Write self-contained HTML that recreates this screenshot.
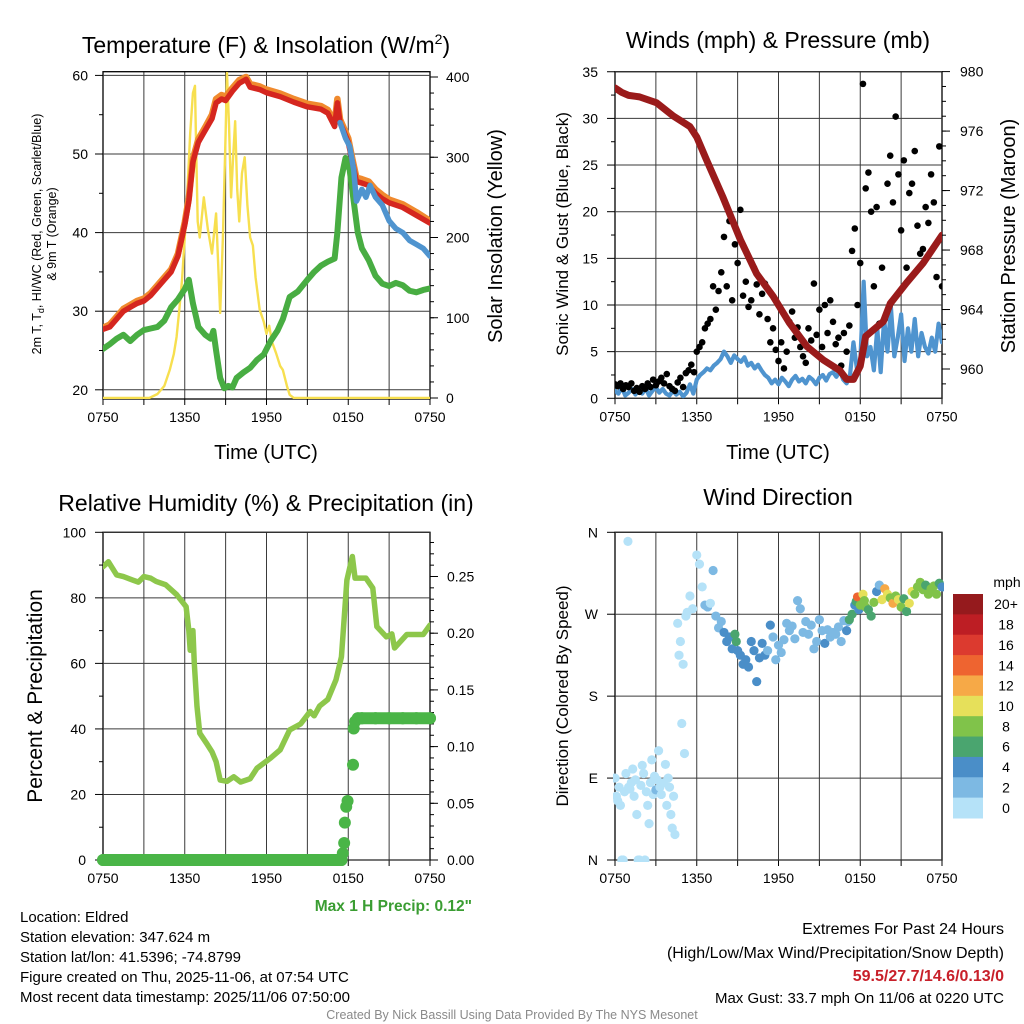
<!DOCTYPE html>
<html><head><meta charset="utf-8">
<style>
html,body{margin:0;padding:0;background:#fff;}
svg{display:block;font-family:"Liberation Sans",Arial,sans-serif;}
</style></head>
<body>
<svg id="chart" width="1024" height="1024" viewBox="0 0 1024 1024" xmlns="http://www.w3.org/2000/svg">
<defs>
<clipPath id="c1"><rect x="103" y="71.7" width="327" height="327.3"/></clipPath>
<clipPath id="c2"><rect x="615" y="71.7" width="327" height="326.6"/></clipPath>
<clipPath id="c3"><rect x="103" y="532.3" width="327" height="327.7"/></clipPath>
<clipPath id="c4"><rect x="613" y="532.3" width="331" height="329.7"/></clipPath>
</defs>
<text x="266" y="53" font-size="23" text-anchor="middle">Temperature (F) &amp; Insolation (W/m<tspan font-size="14" dy="-9">2</tspan><tspan dy="9">)</tspan></text>
<text x="778" y="48" font-size="23" text-anchor="middle">Winds (mph) &amp; Pressure (mb)</text>
<text x="266" y="511" font-size="23" text-anchor="middle">Relative Humidity (%) &amp; Precipitation (in)</text>
<text x="778" y="505" font-size="23" text-anchor="middle">Wind Direction</text>

<text transform="translate(41,234) rotate(-90)" font-size="12.5" text-anchor="middle">2m T, T<tspan font-size="9" dy="3">d</tspan><tspan dy="-3">, HI/WC (Red, Green, Scarlet/Blue)</tspan></text>
<text transform="translate(56,234) rotate(-90)" font-size="12.5" text-anchor="middle">&amp; 9m T (Orange)</text>
<text transform="translate(502,236) rotate(-90)" font-size="20" text-anchor="middle">Solar Insolation (Yellow)</text>
<text transform="translate(568,234) rotate(-90)" font-size="17" text-anchor="middle">Sonic Wind &amp; Gust (Blue, Black)</text>
<text transform="translate(1015,236) rotate(-90)" font-size="20" text-anchor="middle">Station Pressure (Maroon)</text>
<text transform="translate(42,696) rotate(-90)" font-size="21" text-anchor="middle">Percent &amp; Precipitation</text>
<text transform="translate(568,696) rotate(-90)" font-size="17" text-anchor="middle">Direction (Colored By Speed)</text>

<text x="266" y="459" font-size="20" text-anchor="middle">Time (UTC)</text>
<text x="778" y="459" font-size="20" text-anchor="middle">Time (UTC)</text>

<text x="472" y="911" font-size="15.5" font-weight="bold" fill="#3a9d32" text-anchor="end">Max 1 H Precip: 0.12"</text>
<g font-size="15">
<text x="20" y="922">Location: Eldred</text>
<text x="20" y="942">Station elevation: 347.624 m</text>
<text x="20" y="962">Station lat/lon: 41.5396; -74.8799</text>
<text x="20" y="982">Figure created on Thu, 2025-11-06, at 07:54 UTC</text>
<text x="20" y="1002">Most recent data timestamp: 2025/11/06 07:50:00</text>
</g>
<g font-size="16" text-anchor="end">
<text x="1004" y="934">Extremes For Past 24 Hours</text>
<text x="1004" y="958">(High/Low/Max Wind/Precipitation/Snow Depth)</text>
<text x="1004" y="981" font-weight="bold" fill="#c8202a">59.5/27.7/14.6/0.13/0</text>
<text x="1004" y="1003" font-size="15">Max Gust: 33.7 mph On 11/06 at 0220 UTC</text>
</g>
<text x="512" y="1019" font-size="12.5" fill="#8a8a8a" text-anchor="middle">Created By Nick Bassill Using Data Provided By The NYS Mesonet</text>
</svg>
<script>
// ---------- DATA ----------
const timeLabels = ['0750','1350','1950','0150','0750'];
const timeLabelHours = [0,6,12,18,24];

const tempTimes = [0,0.5,1,1.5,2,2.5,3,3.5,4,4.5,5,5.5,6,6.3,6.6,7,7.5,8,8.3,8.7,9,9.5,10,10.5,10.8,11.5,12,13,14,15,16,16.5,17,17.2,17.4,18,18.3,18.6,19,19.5,20,20.5,21,22,23,24];
const tempValues = [27.7,28,29,30,30.5,31,31.3,32,33,34,35,37,41,44,49,51.5,53,54.5,56.5,57,56.8,58,59,59.5,58.5,58.2,57.8,57.3,56.6,56,55.7,55.2,53.5,56.5,54,51.5,49,46.5,46.3,46,45,44.3,43.8,43.2,42.2,41.2];
const temp9mValues = [27.9,28.3,29.3,30.3,30.8,31.3,31.6,32.3,33.3,34.3,35.3,37.3,41.3,44.4,49.4,51.9,53.4,55,57,57.5,57.3,58.4,59.4,59.8,58.9,58.6,58.2,57.7,57,56.4,56.1,55.6,54,57,54.4,52,49.4,47,46.8,46.5,45.5,44.8,44.2,43.6,42.6,41.5];
const chillTimes = [17.4,17.8,18.1,18.4,18.6,19,19.3,19.6,20,20.5,21,21.5,22,22.5,23,23.5,24];
const chillValues = [54,52,51,48,44,45.5,44.5,46,44.5,43.5,41.5,40.5,40,39,38.5,38,37];
const dewTimes = [0,0.5,1,1.5,2,2.5,3,3.5,4,4.5,5,5.5,6,6.3,6.6,7,7.5,7.9,8.1,8.3,8.6,8.9,9.2,9.5,9.8,10.3,10.8,11.3,11.8,12.3,12.8,13.2,13.7,14.3,15,15.5,16,16.5,17,17.2,17.5,17.8,18.1,18.4,18.7,19,19.5,20,20.5,21,21.5,22,22.5,23,23.5,24];
const dewValues = [25.2,25.8,26.5,27,26.2,27,27.6,27.8,28,28.8,30.5,31.5,32.8,34,31,28,27,26.5,27.5,25,21.5,20.2,20.5,20.3,21.5,22.2,22.8,23.8,24.5,26.2,27.5,29,31.8,32.5,34,35,35.8,36.3,36.7,40,47,49.5,48,44,40,38,36.5,34.5,33.5,33.2,33.6,33.3,32.6,32.4,32.7,32.9];
const solarTimes = [0,3.4,4,4.5,4.9,5.2,5.4,5.6,5.8,6,6.2,6.4,6.6,6.75,6.85,6.95,7.1,7.4,7.7,8,8.3,8.6,8.8,9,9.1,9.25,9.4,9.55,9.7,9.85,10,10.2,10.4,10.6,10.8,11,11.2,11.5,11.8,12,12.2,12.4,12.7,13,13.2,13.5,13.7,14,24];
const solarValues = [0,0,5,15,35,55,76,110,147,200,260,330,380,389,300,220,200,250,210,180,230,106,200,330,405,340,250,300,345,260,220,280,300,240,200,190,150,110,95,80,90,70,56,40,35,15,4,0,0];

const pressTimes = [0,0.5,1,1.8,3.06,4.3,5.5,6,6.7,7.9,9.2,10.4,11.6,12.8,14.1,15.3,16.5,17,17.5,18,18.4,19.7,20.2,21.4,22.6,24];
const pressValues = [978.9,978.6,978.4,978.3,977.9,977,976.3,975.6,974.1,971.6,968.7,966.4,964.9,963.1,961.5,960.6,959.9,959.3,959.3,960.2,962.2,963.2,964.4,965.8,967.1,969];
const windValues = [0.8,0.5,1.2,0.3,0.6,1.0,0.4,0.9, 0.5,1.1,0.3,0.8,1.2,0.6,1.0,0.5, 0.3,0.8,0.4,0.7,0.2,0.6,1.5,0.5, 2.0,2.5,2.8,3.2,3.0,3.5,3.8,4.2, 5.0,4.5,3.8,4.6,4.2,3.9,4.4,3.5, 3.8,3.2,3.6,3.0,2.5,2.2,1.6,2.0, 1.5,2.2,1.8,1.3,2.0,2.4,1.8,2.1, 1.6,2.3,2.0,1.5,2.2,2.5,1.9,2.6, 2.8,2.3,3.0,2.0,1.6,2.5,6.0,3.2, 3.8,12.5,4.5,5.5,3.0,7.5,2.8,8.5, 5.0,9.8,4.5,6.5,9.0,4.0,7.5,5.0, 8.5,4.5,7.0,5.5,4.8,6.5,5.0,8.0, 6.0];
const windStepHours = 0.25;
const gustTimes = [0,0.2,0.4,0.6,0.8,1,1.2,1.4,1.6,1.8,2,2.2,2.4,2.6,2.8,3,3.2,3.4,3.6,3.8,4,4.2,4.4,4.6,4.8,5,5.2,5.4,5.6,5.8,6,6.2,6.4,6.6,6.8,7,7.2,7.4,7.6,7.8,8,8.2,8.4,8.6,8.8,9,9.2,9.4,9.6,9.8,10,10.2,10.4,10.6,10.8,11,11.2,11.4,11.6,11.8,12,12.2,12.4,12.6,12.8,13,13.2,13.4,13.6,13.8,14,14.2,14.4,14.6,14.8,15,15.2,15.4,15.6,15.8,16,16.2,16.4,16.6,16.8,17,17.2,17.4,17.6,17.8,18,18.2,18.4,18.6,18.8,19,19.2,19.4,19.6,19.8,20,20.2,20.4,20.6,20.8,21,21.2,21.4,21.6,21.8,22,22.2,22.4,22.6,22.8,23,23.2,23.4,23.6,23.8,24];
const gustValues = [1.5,1.3,1.6,1.0,1.4,1.2,1.6,0.8,1.1,0.7,1.3,1.0,1.6,1.2,2.0,1.4,1.8,2.2,1.6,2.6,1.3,1.0,0.8,1.7,2.2,1.2,2.7,3.0,3.6,2.8,5.0,5.5,6.0,7.5,8.0,8.5,12.0,9.5,11.5,13.5,17.3,12.0,19.0,10.5,16.5,14.5,20.2,11.0,12.5,9.8,10.5,14.0,12.2,9.0,11.2,12.3,8.5,6.0,7.5,5.2,4.0,6.0,3.2,5.0,8.2,9.3,6.5,7.6,5.5,4.5,3.8,7.5,6.2,12.3,6.8,9.5,5.5,10.0,7.0,10.5,8.2,5.8,6.5,3.5,7.0,5.0,7.8,15.8,18.2,10.0,14.5,33.7,22.5,24.2,20.0,12.0,20.5,8.0,14.0,8.5,23.0,26.0,21.0,30.2,24.0,18.0,25.5,14.0,22.0,23.0,26.5,18.5,15.5,16.0,20.5,18.8,24.0,21.0,13.0,27.0,12.0];

const rhTimes = [0,0.4,1,1.5,2.2,2.6,3,3.5,3.9,4.6,5.4,6.1,6.3,6.4,6.6,6.7,6.9,7.1,7.6,8,8.3,8.6,9.1,9.6,10.1,10.8,11.3,12.3,13,13.7,14.5,15.2,15.5,15.9,16.5,17.1,17.5,17.9,18.3,18.5,19.3,19.8,20.1,20.8,21.2,21.4,22.3,23.5,24];
const rhValues = [89.5,91,87,86.5,85.4,84.8,86.5,86,85,84,81,77.3,70,64,70,60,46.8,38.7,35.6,33,30,24.4,24,25.4,23.8,24.8,28,31.1,33.6,39.7,41.5,45.3,44,47,49,55,62,85.4,92.6,86,86,83,71.2,68.1,69,64.7,68.8,68.8,71.7];
const precipTimes = [0,2,4,6,8,10,12,14,16,17,17.5,17.6,17.7,17.75,17.85,17.95,18.35,18.4,18.5,18.7,19,20,21,22,23,24];
const precipValues = [0,0,0,0,0,0,0,0,0,0,0,0.006,0.015,0.033,0.047,0.052,0.084,0.116,0.122,0.125,0.125,0.125,0.125,0.125,0.125,0.125];

const dirTimes = [0,0.1,0.2,0.3,0.4,0.5,0.6,0.7,0.8,0.95,1,1.1,1.2,1.3,1.4,1.5,1.6,1.7,1.8,1.9,2,2.1,2.2,2.3,2.4,2.5,2.6,2.7,2.8,2.9,3,3.1,3.2,3.3,3.4,3.6,3.7,3.8,3.9,4,4.1,4.2,4.3,4.4,4.6,4.7,4.8,4.9,5,5.1,5.2,5.3,5.5,5.7,6,6.2,6.4,6.6,6.8,7,7.2,7.4,7.6,7.8,8,8.2,8.4,8.6,8.8,8.9,9,9.2,9.4,9.6,9.8,10,10.2,10.4,10.6,10.8,11,11.2,11.4,11.6,11.8,12,12.2,12.4,12.6,12.8,13,13.2,13.4,13.6,13.8,14,14.2,14.4,14.6,14.8,15,15.2,15.4,15.6,15.8,16,16.2,16.4,16.6,16.8,17,17.1,17.2,17.4,17.6,17.7,17.8,17.9,18,18.2,18.3,18.4,18.6,18.8,19,19.2,19.4,19.6,19.8,20,20.2,20.4,20.6,20.8,21,21.2,21.4,21.6,21.8,22,22.2,22.4,22.6,22.8,23,23.2,23.4,23.6,23.8,24];
const dirValues = [90,70,65,80,60,0,0,75,95,350,80,78,85,100,70,88,50,0,0,82,104,95,0,75,60,40,85,110,72,92,77,88,120,80,72,85,105,60,90,80,50,35,70,28,260,225,240,150,215,117,268,272,290,276,335,325,300,280,278,282,318,268,255,262,250,240,245,232,248,240,230,225,215,220,212,240,230,196,222,238,225,230,258,245,220,236,228,242,260,252,257,243,285,276,250,262,248,258,232,240,264,252,238,253,245,250,248,256,240,263,252,262,264,270,280,284,289,275,280,292,285,278,275,268,283,295,302,286,298,292,288,282,290,286,278,287,273,282,295,292,300,305,297,302,292,298,301,292,304,300];
const dirSpeeds = [1,1,0.5,1,1,0.5,0.5,1,0.8,1,1,1,0.6,1,1,0.6,1,0.5,0.5,1,1,1,0.5,1,0.8,1,1,0.8,1.2,0.8,3.5,1,1,1,1,1,1,1,1,1,1,1,1,1,1,1,1,1,1,1,1,1,1,1,1,0.8,1.5,2,2,1.5,3,2.5,2.5,3,4.5,4.5,5,4.5,6.5,7,4.5,4.5,5,4.5,4.5,5,4.5,4.5,4.5,4,5,3.5,4,2.5,3,2.5,3.5,3,2.5,3,2.5,3,2,2.5,2.5,3,3,2.5,2.5,2,2.5,3,4.5,3,2.5,3,2.5,3,2.5,2.5,4.5,3,7.5,6.5,4.5,7,15,4,8.5,10,8,9,7.5,6.5,9,4,3.5,10.5,12.5,11,9,12,8,10,8.5,7,6.5,10,10.5,8.5,9,8.5,9,7,8.5,8.5,9,8.5,6.5,5];
const speedBinLabels = ['0','2','4','6','8','10','12','14','16','18','20+'];

// ---------- DRAWING ----------
const NS = 'http://www.w3.org/2000/svg';
const svg = document.getElementById('chart');
const binColors = ['#b5e2f8','#7db9e3','#4a8ec8','#4aa56f','#80c34a','#e6e05a','#f6a947','#ee6430','#dc3a2f','#bd1e24','#951a1d'];
function mk(tag, attrs, parent){
  const e = document.createElementNS(NS, tag);
  for (const k in attrs) e.setAttribute(k, attrs[k]);
  (parent || svg).appendChild(e);
  return e;
}
function grp(name, parent){
  const g = mk('g', {}, parent);
  
  
  return g;
}
function xScale(x0){ return t => x0 + t * 327 / 24; }

function frame(name, x0, y0, x1, y1, xs){
  const g = grp(name + '-axes');
  for (let h = 0; h <= 24; h += 3){
    const x = xs(h);
    const ln = mk('line', {x1:x, y1:y0, x2:x, y2:y1, stroke:'#3a3a3a', 'stroke-width':1}, g);
    
    
    const tk = mk('line', {x1:x, y1:y1, x2:x, y2:y1 + 6, stroke:'#000', 'stroke-width':1}, g);
    
    
  }
  for (let i = 0; i < timeLabels.length; i++){
    const tx = mk('text', {x:xs(timeLabelHours[i]), y:y1 + 23, 'font-size':14, 'text-anchor':'middle'}, g);
    tx.textContent = timeLabels[i];
    
    
  }
  const fr = mk('rect', {x:x0, y:y0, width:x1 - x0, height:y1 - y0, fill:'none', stroke:'#000', 'stroke-width':1.3}, g);
  
  
  return g;
}
function yAxis(g, side, x, ys, vals, fmt, minorVals, grid, x0, x1, labelX){
  const dir = side === 'left' ? -1 : 1;
  minorVals.forEach(v => {
    const y = ys(v);
    const m = mk('line', {x1:x, y1:y, x2:x + dir * 4, y2:y, stroke:'#000', 'stroke-width':1}, g);
    
    
  });
  vals.forEach(v => {
    const y = ys(v);
    if (grid){
      const gl = mk('line', {x1:x0, y1:y, x2:x1, y2:y, stroke:'#3a3a3a', 'stroke-width':1}, g);
      
      
    }
    const t = mk('line', {x1:x, y1:y, x2:x + dir * 8, y2:y, stroke:'#000', 'stroke-width':1}, g);
    
    
    const tx = mk('text', {x:labelX, y:y + 5, 'font-size':14, 'text-anchor': side === 'left' ? 'end' : 'start'}, g);
    tx.textContent = fmt(v);
    
    
  });
}
function range(a, b, s){ const r = []; for (let v = a; v <= b + 1e-9; v += s) r.push(+v.toFixed(4)); return r; }
function pathD(ts, vs, xs, ys){ return ts.map((t, i) => (i ? 'L' : 'M') + xs(t).toFixed(2) + ',' + ys(vs[i]).toFixed(2)).join(' '); }
function line(parent, name, ts, vs, xs, ys, color, w, clip){
  const p = mk('path', {d:pathD(ts, vs, xs, ys), fill:'none', stroke:color, 'stroke-width':w, 'stroke-linejoin':'round', 'stroke-linecap':'round', 'clip-path':'url(#' + clip + ')'}, parent);
  
  
  return p;
}

// Panel 1
(function(){
  const xs = xScale(103);
  const yT = v => 389.8 - (v - 20) * 7.86;
  const yS = w => 398 - w * 0.8025;
  const g = frame('temperature', 103, 71.7, 430, 399, xs);
  yAxis(g, 'left', 103, yT, [20,30,40,50,60], v => String(v), range(25, 55, 10), true, 103, 430, 88);
  yAxis(g, 'right', 430, yS, [0,100,200,300,400], v => String(v), range(20, 380, 20), false, 0, 0, 446);
  const s = grp('temperature-series');
  line(s, 'insolation-line', solarTimes, solarValues, xs, yS, '#f7df4f', 2.4, 'c1');
  line(s, 'dewpoint-line', dewTimes, dewValues, xs, yT, '#48ad42', 6, 'c1');
  line(s, 'temp-9m-line', tempTimes, temp9mValues, xs, yT, '#f08a2e', 6.5, 'c1');
  line(s, 'temp-2m-line', tempTimes, tempValues, xs, yT, '#d5261f', 5.5, 'c1');
  line(s, 'windchill-line', chillTimes, chillValues, xs, yT, '#4f94cf', 5.5, 'c1');
})();

// Panel 2
(function(){
  const xs = xScale(615);
  const yW = v => 398.3 - v * 9.33;
  const yP = p => 369 - (p - 960) * 14.87;
  const g = frame('winds', 615, 71.7, 942, 398.3, xs);
  yAxis(g, 'left', 615, yW, [0,5,10,15,20,25,30,35], v => String(v), range(2.5, 32.5, 5), true, 615, 942, 598);
  yAxis(g, 'right', 942, yP, [960,964,968,972,976,980], v => String(v), range(959, 979, 1), false, 0, 0, 960);
  const s = grp('winds-series');
  const wt = windValues.map((v, i) => i * windStepHours);
  line(s, 'sonic-wind-line', wt, windValues, xs, yW, '#4f94cf', 4.2, 'c2');
  const dots = grp('gust-dots', s);
  gustTimes.forEach((t, i) => {
    const c = mk('circle', {cx:xs(t), cy:yW(gustValues[i]), r:3.3, fill:'#000', 'clip-path':'url(#c2)'}, dots);
    
    
  });
  line(s, 'pressure-line', pressTimes, pressValues, xs, yP, '#9a1b1b', 7, 'c2');
})();

// Panel 3
(function(){
  const xs = xScale(103);
  const yR = v => 860 - v * 3.277;
  const yPr = p => 860 - p * 1134;
  const g = frame('humidity', 103, 532.3, 430, 860, xs);
  yAxis(g, 'left', 103, yR, [0,20,40,60,80,100], v => String(v), range(10, 90, 20), true, 103, 430, 86);
  yAxis(g, 'right', 430, yPr, [0,0.05,0.1,0.15,0.2,0.25], v => v.toFixed(2), range(0.01, 0.28, 0.01), false, 0, 0, 447);
  const s = grp('humidity-series');
  line(s, 'rh-line', rhTimes, rhValues, xs, yR, '#8dc74b', 5.5, 'c3');
  const pg = grp('precip-series', s);
  for (let i = 1; i < precipTimes.length; i++){
    if (precipValues[i] === precipValues[i - 1]){
      const seg = mk('line', {x1:xs(precipTimes[i - 1]), y1:yPr(precipValues[i - 1]), x2:xs(precipTimes[i]), y2:yPr(precipValues[i]), stroke:'#4ab547', 'stroke-width':12, 'stroke-linecap':'round'}, pg);
      
      
    }
  }
  precipTimes.forEach((t, i) => {
    const c = mk('circle', {cx:xs(t), cy:yPr(precipValues[i]), r:6, fill:'#4ab547'}, pg);
    
    
  });
})();

// Panel 4
(function(){
  const xs = xScale(615);
  const yD = d => 860 - d * 327.7 / 360;
  const g = frame('wind-direction', 615, 532.3, 942, 860, xs);
  const dirLbl = {0:'N', 90:'E', 180:'S', 270:'W', 360:'N'};
  yAxis(g, 'left', 615, yD, [0,90,180,270,360], v => dirLbl[v], [], true, 615, 942, 598);
  const s = grp('direction-points');
  dirTimes.forEach((t, i) => {
    const bin = Math.min(10, Math.floor(dirSpeeds[i] / 2));
    const c = mk('circle', {cx:xs(t), cy:yD(dirValues[i]), r:4.6, fill:binColors[bin], 'clip-path':'url(#c4)'}, s);
    
    
  });
  const lg = grp('speed-colorbar');
  const top = 594, h = 224 / 11;
  speedBinLabels.forEach((lab, k) => {
    const idx = 10 - k;
    const r = mk('rect', {x:953, y:top + k * h, width:30, height:h + 0.5, fill:binColors[idx]}, lg);
    
    
    const tx = mk('text', {x:1006, y:top + k * h + h / 2 + 5, 'font-size':14, 'text-anchor':'middle'}, lg);
    tx.textContent = speedBinLabels[idx];
    
    
  });
  const u = mk('text', {x:1007, y:587, 'font-size':14, 'text-anchor':'middle'}, lg);
  u.textContent = 'mph';
  
  
})();
</script>
</body></html>
